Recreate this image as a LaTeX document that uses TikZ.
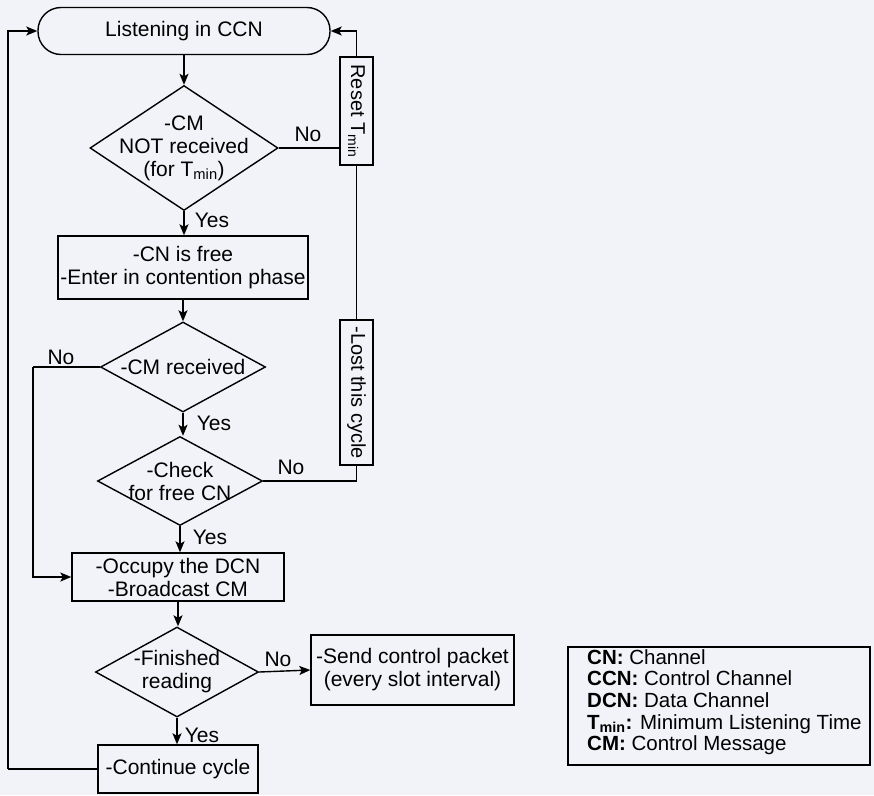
\documentclass[tikz,border=0pt]{standalone}
\usepackage{fontspec}
\setmainfont{Liberation Sans}
\usetikzlibrary{shapes.geometric,arrows.meta}
\definecolor{bg}{RGB}{241,243,248}
\begin{document}
\begin{tikzpicture}[x=1pt,y=-1pt,
  every node/.style={font=\fontsize{21}{23}\selectfont},
  base/.style={draw, line width=1.4pt, inner sep=0pt, align=center},
  procbox/.style={base, rectangle},
  termbox/.style={base, rectangle, rounded corners=23pt},
  decision/.style={base, diamond},
  dtext/.style={inner sep=0pt, align=center},
  sidebox/.style={base, rectangle, rotate=-90, font=\fontsize{20}{22}\selectfont},
  lbl/.style={inner sep=0pt},
  conn/.style={line width=1.4pt},
  arr/.style={conn, -{Stealth[length=11pt,width=9pt,inset=2.5pt]}}
]
\fill[bg] (0,0) rectangle (874,795);
\useasboundingbox (0,0) rectangle (874,795);

\node[termbox, minimum width=292pt, minimum height=47pt] (term) at (184,31) {Listening in CCN};

\node[decision, minimum width=188pt, minimum height=125pt] (d1) at (184,148) {};
\node[dtext] (d1t) at (d1) {-CM\\NOT received\\(for T\textsubscript{min})};

\node[procbox, minimum width=250pt, minimum height=63pt] (b1) at (183,267.5) {-CN is free\\-Enter in contention phase};

\node[decision, minimum width=165pt, minimum height=90pt] (d2) at (183,367) {};
\node[dtext] (d2t) at (d2) {-CM received};

\node[decision, minimum width=165pt, minimum height=89pt] (d3) at (180,481) {};
\node[dtext] (d3t) at (d3) {-Check\\for free CN};

\node[procbox, minimum width=212pt, minimum height=48pt] (occ) at (178,577) {-Occupy the DCN\\-Broadcast CM};

\node[decision, minimum width=163pt, minimum height=90pt] (d4) at (177,672) {};
\node[dtext] (d4t) at (d4) {-Finished\\reading};

\node[procbox, minimum width=203pt, minimum height=70pt] (send) at (412.5,670) {-Send control packet\\(every slot interval)};
\node[procbox, minimum width=160pt, minimum height=48pt] (cont) at (178,769) {-Continue cycle};

\node[sidebox, minimum width=108pt, minimum height=33pt] (reset) at (356.5,111) {Reset T\textsubscript{min}};
\node[sidebox, minimum width=145pt, minimum height=33pt] (lost) at (356.5,392.5) {-Lost this cycle};

\node[draw, line width=1.4pt, minimum width=302pt, minimum height=118pt, inner sep=0pt] (legend) at (719,706) {};
\node[anchor=north west, align=left, inner sep=0pt, font=\fontsize{20.5}{21.7}\selectfont] (legtext) at (587,649)
 {\textbf{CN:} Channel\\
  \textbf{CCN:} Control Channel\\
  \textbf{DCN:} Data Channel\\
  \textbf{T\textsubscript{min}:} Minimum Listening Time\\
  \textbf{CM:} Control Message};

\coordinate (left2) at (33,367);
\coordinate (left1) at (8,769);

% main spine
\draw[arr] (term.south) -- (term.south |- d1.north);
\draw[arr] (d1.south) -- (d1.south |- b1.north);
\draw[arr] (b1.south) -- (b1.south |- d2.north);
\draw[arr] (d2.south) -- (d2.south |- d3.north);
\draw[arr] (d3.south) -- (d3.south |- occ.north);
\draw[arr] (occ.south) -- (occ.south |- d4.north);
\draw[arr] (d4.south) -- (d4.south |- cont.north);
\draw[arr] (d4.east) -- (send.west);

% right loop
\draw[conn] (d1.east) -- (d1.east -| reset.south);
\draw[arr] (reset.west) |- (term.east);
\draw[conn] (lost.west) -- (reset.east);
\draw[conn] (d3.east) -| (lost.east);

% left loops
\draw[conn] (d2.west) -- (left2);
\draw[arr] (left2) |- (occ.west);
\draw[conn] (cont.west) -- (left1);
\draw[arr] (left1) |- (term.west);

% labels
\node[lbl] (l1) at (308,134) {No};
\node[lbl] (l2) at (212,220) {Yes};
\node[lbl] (l3) at (61,357) {No};
\node[lbl] (l4) at (214,423) {Yes};
\node[lbl] (l5) at (291,467) {No};
\node[lbl] (l6) at (210,537) {Yes};
\node[lbl] (l7) at (278,659) {No};
\node[lbl] (l8) at (202,735) {Yes};
\end{tikzpicture}
\end{document}
